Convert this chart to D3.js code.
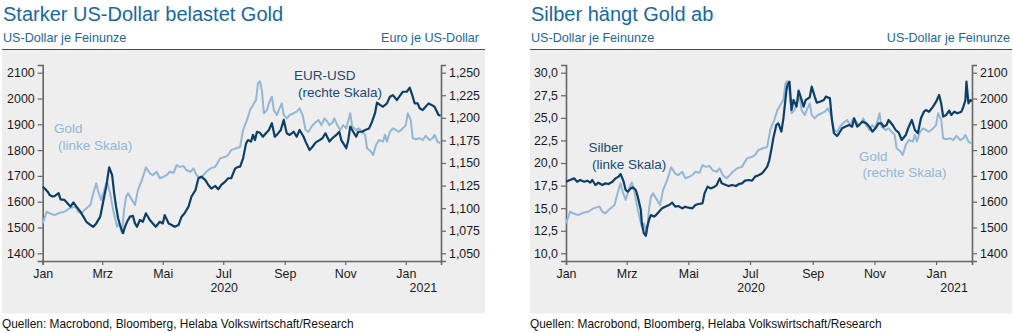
<!DOCTYPE html>
<html>
<head>
<meta charset="utf-8">
<script src="https://cdn.jsdelivr.net/npm/d3@7"></script>
<style>
  html, body { margin: 0; padding: 0; background: #fff; }
  svg { display: block; font-family: "Liberation Sans", Arial, sans-serif; }
</style>
</head>
<body>
<svg id="chart" width="1014" height="333"></svg>
<script>
// Tage ab 01.01.2020 und Wert
const gold = [[0,1516],[4,1561],[7,1555],[12,1548],[17,1557],[22,1561],[27,1574],[33,1581],[36,1561],[39,1555],[43,1571],[48,1587],[51,1633],[54,1671],[56,1639],[59,1607],[63,1658],[65,1675],[68,1633],[71,1568],[75,1503],[77,1516],[80,1478],[82,1568],[84,1619],[86,1633],[90,1607],[93,1587],[96,1645],[100,1684],[104,1733],[108,1710],[111,1703],[115,1716],[118,1691],[122,1697],[125,1703],[128,1716],[132,1712],[135,1742],[138,1735],[142,1738],[145,1722],[149,1716],[152,1729],[155,1703],[159,1691],[162,1703],[165,1716],[169,1729],[174,1735],[179,1768],[184,1774],[187,1781],[190,1800],[194,1806],[199,1812],[202,1878],[206,1917],[209,1955],[212,1975],[215,1994],[217,2059],[219,2067],[221,2029],[223,1943],[226,1955],[228,1981],[231,2007],[233,1955],[236,1936],[238,1955],[241,1981],[243,1936],[246,1923],[249,1936],[253,1943],[256,1949],[259,1962],[262,1936],[265,1878],[268,1871],[271,1891],[274,1904],[278,1917],[281,1897],[284,1923],[287,1910],[289,1897],[292,1906],[294,1923],[297,1897],[300,1878],[303,1897],[306,1884],[310,1943],[312,1891],[316,1878],[319,1884],[322,1871],[325,1859],[327,1807],[331,1794],[333,1781],[336,1820],[339,1839],[343,1833],[345,1859],[347,1833],[350,1871],[353,1884],[356,1878],[359,1871],[363,1884],[366,1897],[368,1943],[371,1917],[373,1846],[376,1842],[380,1846],[383,1839],[386,1855],[390,1839],[393,1846],[395,1859],[398,1833],[401,1826]];

const eurUsd = [[0,1.1237],[2,1.1217],[5,1.1183],[7,1.1146],[10,1.1129],[12,1.1134],[16,1.1166],[18,1.1097],[22,1.1091],[25,1.1054],[28,1.1017],[31,1.1063],[34,1.1017],[38,1.0960],[41,1.0906],[44,1.0849],[48,1.0814],[51,1.0794],[54,1.0831],[58,1.0906],[59,1.0960],[62,1.1129],[64,1.1237],[67,1.1451],[70,1.1366],[72,1.1166],[74,1.1017],[76,1.0889],[79,1.0777],[81,1.0723],[83,1.0794],[85,1.0849],[88,1.0906],[91,1.0914],[93,1.0831],[95,1.0794],[98,1.0869],[101,1.0849],[104,1.0943],[108,1.0869],[111,1.0831],[114,1.0794],[118,1.0849],[121,1.0831],[123,1.0923],[127,1.0831],[130,1.0814],[133,1.0794],[137,1.0814],[140,1.0906],[143,1.0943],[147,1.1017],[150,1.1129],[154,1.1200],[157,1.1331],[160,1.1349],[164,1.1311],[167,1.1257],[170,1.1217],[174,1.1246],[177,1.1209],[180,1.1257],[184,1.1294],[187,1.1331],[190,1.1331],[194,1.1440],[197,1.1457],[199,1.1460],[202,1.1551],[205,1.1717],[207,1.1754],[210,1.1737],[212,1.1811],[214,1.1754],[216,1.1846],[219,1.1834],[222,1.1791],[225,1.1829],[228,1.1866],[231,1.1940],[234,1.1791],[236,1.1811],[240,1.1866],[243,1.1977],[246,1.1829],[249,1.1811],[253,1.1846],[256,1.1791],[259,1.1866],[263,1.1791],[265,1.1737],[269,1.1643],[272,1.1680],[275,1.1726],[279,1.1754],[282,1.1774],[285,1.1829],[289,1.1737],[292,1.1774],[296,1.1811],[299,1.1846],[301,1.1754],[304,1.1700],[306,1.1663],[308,1.1754],[310,1.1903],[313,1.1846],[316,1.1791],[318,1.1846],[322,1.1846],[325,1.1866],[329,1.1883],[332,1.1957],[335,1.2051],[337,1.2169],[340,1.2143],[343,1.2123],[347,1.2160],[350,1.2234],[353,1.2251],[357,1.2197],[360,1.2243],[363,1.2289],[367,1.2289],[370,1.2334],[373,1.2234],[375,1.2160],[378,1.2160],[380,1.2106],[383,1.2086],[386,1.2123],[389,1.2160],[392,1.2143],[395,1.2123],[399,1.2031],[401,1.2025]];

const silver = [[0,17.93],[4,18.12],[8,18.30],[11,17.93],[14,18.12],[18,17.93],[21,18.04],[24,17.82],[26,18.12],[29,17.56],[32,17.82],[36,17.56],[39,17.75],[42,17.67],[46,17.93],[49,18.30],[52,18.49],[54,18.78],[57,17.93],[59,17.01],[61,16.83],[64,17.19],[66,17.31],[69,17.01],[71,16.27],[74,14.80],[75,13.32],[77,12.21],[79,11.95],[80,12.76],[82,13.69],[84,14.24],[87,14.06],[89,14.24],[92,14.61],[95,14.98],[98,15.16],[102,15.35],[105,15.61],[108,15.16],[111,15.24],[115,14.98],[118,15.16],[121,15.05],[125,14.98],[128,15.35],[131,15.46],[135,15.53],[137,16.64],[140,17.38],[143,17.19],[146,17.31],[149,17.56],[152,18.30],[154,17.75],[158,17.56],[161,17.45],[164,17.56],[168,17.45],[171,17.67],[174,17.75],[177,18.04],[181,18.12],[184,18.04],[187,18.49],[191,18.67],[194,18.86],[197,19.30],[199,19.60],[201,20.30],[203,21.44],[205,22.73],[208,24.21],[210,24.39],[213,23.47],[215,24.95],[218,28.08],[219,28.64],[221,29.01],[223,25.87],[225,26.98],[228,26.24],[230,28.01],[232,27.35],[235,26.24],[237,26.98],[241,27.27],[243,28.45],[246,27.35],[248,26.68],[251,26.79],[255,26.98],[257,27.35],[261,27.16],[263,24.76],[265,23.29],[268,22.99],[270,23.29],[273,23.84],[276,24.02],[280,24.21],[283,24.02],[285,24.95],[288,24.02],[290,24.21],[293,24.58],[297,24.39],[300,24.02],[303,23.47],[306,23.84],[309,24.39],[312,24.39],[314,24.02],[317,24.21],[319,24.76],[323,24.21],[326,23.65],[329,23.36],[332,22.55],[336,23.10],[339,24.02],[342,24.76],[345,23.65],[348,23.29],[351,24.95],[354,25.68],[356,25.87],[359,25.68],[363,26.24],[366,26.79],[369,27.53],[371,26.61],[373,25.13],[376,25.32],[379,25.80],[381,25.32],[384,25.68],[387,25.50],[391,25.68],[393,26.24],[395,26.98],[396,29.01],[398,26.61],[400,26.98],[401,26.79]];

const monthTicks = [[2020,0],[2020,2],[2020,4],[2020,6],[2020,8],[2020,10],[2021,0]];
const monthLabels = ["Jan","Mrz","Mai","Jul","Sep","Nov","Jan"];
const yearLabels = ["2020","2021"];
const goldTicks = [1400,1500,1600,1700,1800,1900,2000,2100];
const eurTicks = [1.05,1.075,1.1,1.125,1.15,1.175,1.2,1.225,1.25];
const silverTicks = [10,12.5,15,17.5,20,22.5,25,27.5,30];

const START = new Date(2020,0,1);
const END = new Date(2021,1,5,12);
const DARK = "#0d3e66";
const LIGHT = "#93b7d5";
const BLUE = "#1769a3";

const de = d3.formatLocale({decimal: ",", thousands: ".", grouping: [3], currency: ["", " €"]});

const svg = d3.select("#chart");

function panel(o) {
	const g = svg.append("g");

	// Hintergrund + rote Linie
	g.append("rect").attr("x", o.x0).attr("y", 49.5).attr("width", o.x1 - o.x0).attr("height", 264)
		.attr("fill", "#eeeeee");
	g.append("line").attr("x1", o.x0).attr("x2", o.x1).attr("y1", 49.5).attr("y2", 49.5)
		.attr("stroke", "#c8102e").attr("stroke-width", 1.2);

	g.append("text").attr("x", o.x0 + 1).attr("y", 21).attr("fill", BLUE)
		.style("font-size", "20px").text(o.title);
	g.append("text").attr("x", o.x0 + 1).attr("y", 41.5).attr("fill", BLUE)
		.style("font-size", "12.6px").text(o.subLeft);
	g.append("text").attr("x", o.subRightX).attr("y", 41.5).attr("fill", BLUE).attr("text-anchor", "end")
		.style("font-size", "12.6px").text(o.subRight);
	g.append("text").attr("x", o.x0).attr("y", 328).attr("fill", "#111")
		.style("font-size", "11.9px").text("Quellen: Macrobond, Bloomberg, Helaba Volkswirtschaft/Research");

	const top = 65, bottom = 261;
	const x = d3.scaleTime().domain([START, END]).range([o.left, o.right]);
	const yL = d3.scaleLinear().domain(o.leftDomain).range([bottom, top]);
	const yR = d3.scaleLinear().domain(o.rightDomain).range([bottom, top]);

	const styleAxis = sel => {
		sel.select(".domain").attr("stroke", "#666").attr("stroke-width", 1.6);
		sel.selectAll(".tick line").attr("stroke", "#666").attr("stroke-width", 1.2);
		sel.selectAll(".tick text").attr("fill", "#1a1a1a").style("font-size", "12.4px")
			.style("font-family", "'Liberation Sans', Arial, sans-serif");
	};

	g.append("g").attr("transform", `translate(${o.left},0)`)
		.call(d3.axisLeft(yL).tickValues(o.leftTicks).tickFormat(o.leftFmt).tickSizeOuter(0).tickSize(5).tickPadding(3))
		.call(styleAxis);
	g.append("g").attr("transform", `translate(${o.right},0)`)
		.call(d3.axisRight(yR).tickValues(o.rightTicks).tickFormat(o.rightFmt).tickSizeOuter(0).tickSize(5).tickPadding(3))
		.call(styleAxis);

	const tickDates = monthTicks.map(d => new Date(d[0], d[1], 1));
	g.append("g").attr("transform", `translate(0,${bottom})`)
		.call(d3.axisBottom(x).tickValues(tickDates).tickFormat((d, i) => monthLabels[i]).tickSizeOuter(0).tickSize(4).tickPadding(4))
		.call(styleAxis);

	const y2021 = new Date(2021, 0, 1);
	[[START, y2021], [y2021, END]].forEach((r, i) => {
		g.append("text").attr("x", (x(r[0]) + x(r[1])) / 2).attr("y", 292).attr("text-anchor", "middle")
			.attr("fill", "#1a1a1a").style("font-size", "12.4px").text(yearLabels[i]);
	});

	const line = yS => d3.line().x(d => x(d3.timeDay.offset(START, d[0]))).y(d => yS(d[1]));

	o.series.forEach(s => {
		g.append("path").datum(s.data).attr("fill", "none").attr("stroke", s.color)
			.attr("stroke-width", s.width).attr("stroke-linejoin", "round")
			.attr("d", line(s.axis === "left" ? yL : yR));
	});

	o.labels.forEach(l => {
		g.append("text").attr("x", l.x).attr("y", l.y).attr("fill", l.color)
			.style("font-size", "13.5px").text(l.text);
	});
}

panel({
	x0: 2, x1: 485, left: 42.7, right: 441, subRightX: 479,
	title: "Starker US-Dollar belastet Gold",
	subLeft: "US-Dollar je Feinunze", subRight: "Euro je US-Dollar",
	leftDomain: [1370, 2130], rightDomain: [1.0415, 1.2585],
	leftTicks: goldTicks, rightTicks: eurTicks,
	leftFmt: d3.format("d"), rightFmt: de.format(".3f"),
	series: [
		{data: gold, axis: "left", color: LIGHT, width: 2},
		{data: eurUsd, axis: "right", color: DARK, width: 2.2}
	],
	labels: [
		{text: "Gold", x: 54, y: 133, color: LIGHT},
		{text: "(linke Skala)", x: 58, y: 150, color: LIGHT},
		{text: "EUR-USD", x: 294, y: 80, color: "#1b4a72"},
		{text: "(rechte Skala)", x: 298, y: 97, color: "#1b4a72"}
	]
});

panel({
	x0: 530, x1: 1012, left: 566, right: 972, subRightX: 1010,
	title: "Silber hängt Gold ab",
	subLeft: "US-Dollar je Feinunze", subRight: "US-Dollar je Feinunze",
	leftDomain: [9.15, 30.85], rightDomain: [1370, 2130],
	leftTicks: silverTicks, rightTicks: goldTicks,
	leftFmt: de.format(".1f"), rightFmt: d3.format("d"),
	series: [
		{data: gold, axis: "right", color: LIGHT, width: 2},
		{data: silver, axis: "left", color: DARK, width: 2.2}
	],
	labels: [
		{text: "Silber", x: 588.5, y: 152, color: "#1b4a72"},
		{text: "(linke Skala)", x: 592, y: 169, color: "#1b4a72"},
		{text: "Gold", x: 859, y: 160.5, color: LIGHT},
		{text: "(rechte Skala)", x: 862.5, y: 177, color: LIGHT}
	]
});
</script>
</body>
</html>
